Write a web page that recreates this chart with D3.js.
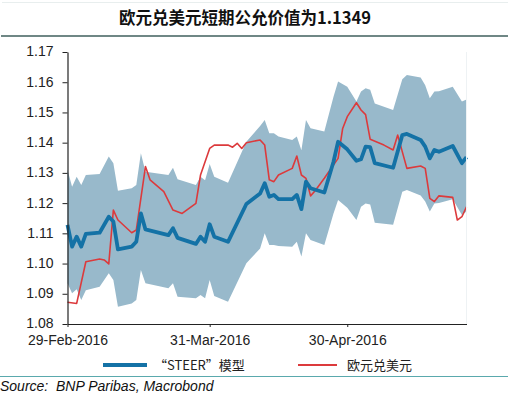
<!DOCTYPE html>
<html><head><meta charset="utf-8">
<script src="https://cdn.jsdelivr.net/npm/d3@7"></script>
<style>
html,body{margin:0;padding:0;background:#fff;}
svg{display:block;}
</style></head>
<body>
<svg id="chart" width="515" height="395"></svg>
<script>
const titleText = "欧元兑美元短期公允价值为1.1349";
const seriesNames = ["“STEER”模型", "欧元兑美元"];
const sourceText = "Source:  BNP Paribas, Macrobond";
const yTicks = [1.08, 1.09, 1.10, 1.11, 1.12, 1.13, 1.14, 1.15, 1.16, 1.17];
const xTickDates = ["2016-02-29", "2016-03-31", "2016-04-30"];

// STEER model (fair value) and its band
const steerDates = ["2016-02-29","2016-03-01","2016-03-02","2016-03-03","2016-03-04","2016-03-07","2016-03-09","2016-03-10","2016-03-11","2016-03-14","2016-03-15","2016-03-16","2016-03-17","2016-03-22","2016-03-23","2016-03-24","2016-03-28","2016-03-29","2016-03-30","2016-03-31","2016-04-01","2016-04-04","2016-04-08","2016-04-11","2016-04-12","2016-04-13","2016-04-14","2016-04-15","2016-04-18","2016-04-19","2016-04-20","2016-04-21","2016-04-22","2016-04-25","2016-04-27","2016-04-28","2016-04-30","2016-05-02","2016-05-03","2016-05-04","2016-05-05","2016-05-06","2016-05-10","2016-05-12","2016-05-13","2016-05-16","2016-05-17","2016-05-18","2016-05-19","2016-05-20","2016-05-23","2016-05-25","2016-05-26"];
const steerValues = [1.1128,1.1056,1.1089,1.1056,1.1098,1.1102,1.1155,1.1139,1.1047,1.1056,1.1072,1.1166,1.1113,1.1094,1.1117,1.1085,1.1065,1.1089,1.1072,1.1130,1.1089,1.1072,1.1197,1.1232,1.1266,1.1221,1.1227,1.1213,1.1213,1.1227,1.1180,1.1271,1.1249,1.1235,1.1337,1.1403,1.1378,1.1340,1.1345,1.1387,1.1385,1.1332,1.1317,1.1425,1.1429,1.1409,1.1387,1.1348,1.1376,1.1370,1.1389,1.1332,1.1352];
const bandUpper = [1.1310,1.1254,1.1287,1.1260,1.1293,1.1296,1.1354,1.1332,1.1241,1.1249,1.1260,1.1365,1.1304,1.1293,1.1317,1.1279,1.1260,1.1287,1.1276,1.1329,1.1287,1.1267,1.1403,1.1455,1.1475,1.1431,1.1431,1.1420,1.1409,1.1420,1.1375,1.1475,1.1448,1.1437,1.1552,1.1602,1.1585,1.1536,1.1569,1.1580,1.1575,1.1530,1.1508,1.1610,1.1624,1.1616,1.1590,1.1547,1.1569,1.1570,1.1585,1.1536,1.1543];
const bandLower = [1.0935,1.0902,1.0915,1.0879,1.0912,1.0923,1.0968,1.0946,1.0857,1.0868,1.0879,1.0979,1.0935,1.0918,1.0935,1.0890,1.0885,1.0896,1.0885,1.0946,1.0893,1.0874,1.1001,1.1050,1.1100,1.1061,1.1061,1.1058,1.1056,1.1072,1.1023,1.1100,1.1078,1.1061,1.1166,1.1210,1.1185,1.1144,1.1188,1.1199,1.1195,1.1135,1.1128,1.1238,1.1243,1.1225,1.1205,1.1172,1.1199,1.1200,1.1213,1.1161,1.1172];

// EUR/USD spot
const eurusdDates = ["2016-02-29","2016-03-02","2016-03-04","2016-03-07","2016-03-08","2016-03-09","2016-03-10","2016-03-11","2016-03-14","2016-03-15","2016-03-17","2016-03-18","2016-03-21","2016-03-23","2016-03-25","2016-03-28","2016-03-29","2016-03-31","2016-04-01","2016-04-04","2016-04-05","2016-04-06","2016-04-07","2016-04-08","2016-04-11","2016-04-12","2016-04-13","2016-04-14","2016-04-15","2016-04-18","2016-04-19","2016-04-20","2016-04-21","2016-04-22","2016-04-23","2016-04-25","2016-04-28","2016-04-29","2016-04-30","2016-05-02","2016-05-03","2016-05-04","2016-05-05","2016-05-08","2016-05-10","2016-05-11","2016-05-13","2016-05-16","2016-05-17","2016-05-18","2016-05-19","2016-05-20","2016-05-23","2016-05-24","2016-05-25","2016-05-26"];
const eurusdValues = [1.0872,1.0868,1.1006,1.1015,1.1012,1.0999,1.1177,1.1144,1.1102,1.1111,1.1321,1.1277,1.1238,1.1177,1.1166,1.1199,1.1293,1.1381,1.1392,1.1392,1.1385,1.1398,1.1381,1.1400,1.1409,1.1392,1.1277,1.1271,1.1293,1.1315,1.1356,1.1293,1.1282,1.1224,1.1241,1.1282,1.1348,1.1447,1.1486,1.1532,1.1508,1.1493,1.1411,1.1392,1.1376,1.1425,1.1315,1.1323,1.1315,1.1216,1.1205,1.1224,1.1219,1.1144,1.1155,1.1188];

const parse = d3.timeParse("%Y-%m-%d");
const fmt = d3.timeFormat("%d-%b-%Y");
const svg = d3.select("#chart");

const x = d3.scaleTime().domain([parse("2016-02-29"), parse("2016-05-26")]).range([67.5, 466.5]);
const y = d3.scaleLinear().domain([1.08, 1.17]).range([324, 52]);

// top faint border & title
svg.append("line").attr("x1",2).attr("x2",508).attr("y1",2.5).attr("y2",2.5).attr("stroke","#e8eeee").attr("stroke-width",1);
svg.append("text").attr("x",245).attr("y",24).attr("text-anchor","middle")
  .attr("font-family","'Noto Sans CJK SC', sans-serif").attr("font-weight","bold").attr("font-size",16.5).attr("fill","#111")
  .text(titleText);
svg.append("line").attr("x1",1).attr("x2",508).attr("y1",36).attr("y2",36).attr("stroke","#3f5f5c").attr("stroke-width",1.5);

const steer = steerDates.map((d,i)=>({date:parse(d), v:steerValues[i], hi:bandUpper[i], lo:bandLower[i]}));
const spot = eurusdDates.map((d,i)=>({date:parse(d), v:eurusdValues[i]}));

// band
svg.append("path").datum(steer)
  .attr("d", d3.area().x(d=>x(d.date)).y0(d=>y(d.lo)).y1(d=>y(d.hi)))
  .attr("fill","#98b9cb");

// spot line
svg.append("path").datum(spot)
  .attr("d", d3.line().x(d=>x(d.date)).y(d=>y(d.v)))
  .attr("fill","none").attr("stroke","#dc3a3c").attr("stroke-width",1.6).attr("stroke-linejoin","round");

// steer line
svg.append("path").datum(steer)
  .attr("d", d3.line().x(d=>x(d.date)).y(d=>y(d.v)))
  .attr("fill","none").attr("stroke","#1472a6").attr("stroke-width",3.8).attr("stroke-linejoin","round");

// y axis
const yAxis = d3.axisLeft(y).tickValues(yTicks).tickFormat(d3.format(".2f")).tickSize(5).tickSizeOuter(0);
const gy = svg.append("g").attr("transform","translate(67.5,0)").call(yAxis);
gy.select(".domain").attr("stroke","#222").attr("stroke-width",1.2);
gy.selectAll(".tick line").attr("stroke","#222");
gy.selectAll("text").attr("font-family","'Liberation Sans', Arial, sans-serif").attr("font-size",14).attr("fill","#222").attr("x",-14).attr("dy","0.28em");

// x axis
const xAxis = d3.axisBottom(x).tickValues(xTickDates.map(parse)).tickFormat(fmt).tickSize(3).tickSizeOuter(0);
const gx = svg.append("g").attr("transform","translate(0,324)").call(xAxis);
gx.select(".domain").attr("stroke","#222").attr("stroke-width",1.2);
gx.selectAll(".tick line").attr("stroke","#222");
gx.selectAll("text").attr("font-family","'Liberation Sans', Arial, sans-serif").attr("font-size",14).attr("fill","#222").attr("y",11).attr("dy","0.71em");
// right edge of plot (faint)
svg.append("line").attr("x1",466.5).attr("x2",466.5).attr("y1",52).attr("y2",324).attr("stroke","#eef2f4").attr("stroke-width",1);

// legend
const lg = svg.append("g");
lg.append("line").attr("x1",103).attr("x2",147).attr("y1",365).attr("y2",365).attr("stroke","#1472a6").attr("stroke-width",3.8);
lg.append("text").attr("x",154).attr("y",370).attr("font-family","'Noto Sans CJK SC', sans-serif").attr("font-size",13).attr("fill","#222").text(seriesNames[0]);
lg.append("line").attr("x1",298).attr("x2",337).attr("y1",365).attr("y2",365).attr("stroke","#dc3a3c").attr("stroke-width",1.8);
lg.append("text").attr("x",347).attr("y",370).attr("font-family","'Noto Sans CJK SC', sans-serif").attr("font-size",13).attr("fill","#222").text(seriesNames[1]);

svg.append("line").attr("x1",0).attr("x2",508).attr("y1",376.5).attr("y2",376.5).attr("stroke","#5aa9ad").attr("stroke-width",1.2);
svg.append("text").attr("x",0).attr("y",391).attr("font-family","'Liberation Sans', Arial, sans-serif").attr("font-style","italic").attr("font-size",14).attr("fill","#111").attr("xml:space","preserve").style("white-space","pre").text(sourceText);
</script>
</body></html>
